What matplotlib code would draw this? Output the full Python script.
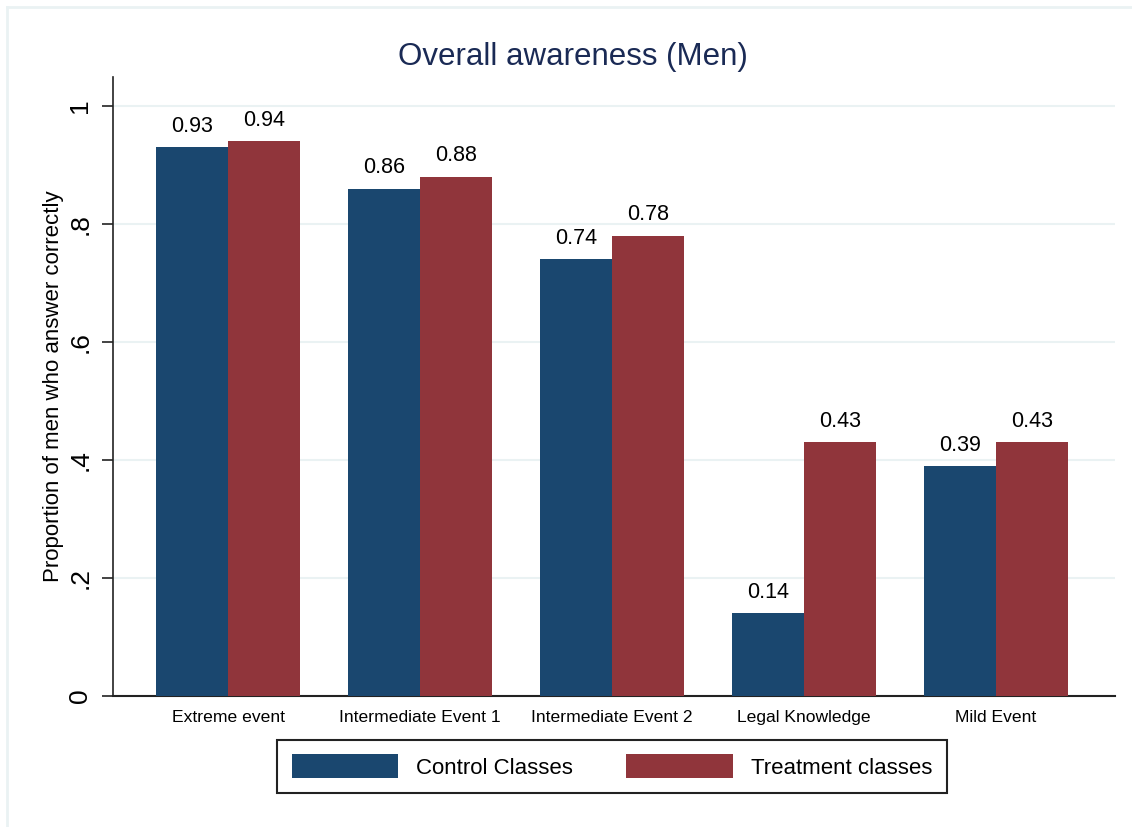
import matplotlib
matplotlib.use("Agg")
import matplotlib.pyplot as plt
import numpy as np
from matplotlib.lines import Line2D

plt.rcParams['font.family'] = ['Liberation Sans', 'DejaVu Sans']

categories = ["Extreme event", "Intermediate Event 1", "Intermediate Event 2",
              "Legal Knowledge", "Mild Event"]
control = [0.93, 0.86, 0.74, 0.14, 0.39]
treatment = [0.94, 0.88, 0.78, 0.43, 0.43]
series_names = ["Control Classes", "Treatment classes"]
yticks = [0, 0.2, 0.4, 0.6, 0.8, 1.0]
ytick_labels = ["0", ".2", ".4", ".6", ".8", "1"]

navy = "#1a476f"
maroon = "#90353b"
grid_c = "#eaf2f3"

fig = plt.figure(figsize=(11.32, 8.27), dpi=100)
W, H = 1132, 827
ax = fig.add_axes([113 / W, (H - 696) / H, (1115 - 113) / W, (696 - 77) / H])

x = np.arange(len(categories))
bw = 0.375
b1 = ax.bar(x - bw / 2, control, bw, color=navy, label=series_names[0], zorder=3)
b2 = ax.bar(x + bw / 2, treatment, bw, color=maroon, label=series_names[1], zorder=3)

for bars, vals in ((b1, control), (b2, treatment)):
    for r, v in zip(bars, vals):
        ax.annotate(f"{v:.2f}", (r.get_x() + r.get_width() / 2, v),
                    xytext=(0, 11), textcoords="offset points",
                    ha="center", va="baseline", fontsize=15.5, color="black")

ax.set_xlim(-0.599, 4.62)
ax.set_ylim(0, 1.049)
ax.set_yticks(yticks)
ax.set_yticklabels(ytick_labels, rotation=90, va="center", fontsize=19)
ax.set_xticks(x)
ax.set_xticklabels(categories, fontsize=12.6)
ax.tick_params(axis="x", length=0, pad=10)
ax.tick_params(axis="y", length=8, width=1.2, pad=7, color="#222222")
ax.grid(axis="y", color=grid_c, linewidth=1.5, zorder=0)
ax.set_axisbelow(True)
for s in ("top", "right"):
    ax.spines[s].set_visible(False)
ax.spines["left"].set_linewidth(1.2)
ax.spines["bottom"].set_linewidth(1.5)
ax.spines["left"].set_color("#222222")
ax.spines["bottom"].set_color("#222222")

ax.set_ylabel("Proportion of men who answer correctly", fontsize=16)
ax.yaxis.set_label_coords(-(113 - 64) / (1115 - 113), 0.5)

fig.text(573 / W, (H - 57) / H, "Overall awareness (Men)", fontsize=22.5,
         color="#1a2a55", ha="center", va="center")

leg = fig.legend(handles=[b1, b2], labels=series_names, loc="center",
                 bbox_to_anchor=(612 / W, (H - 766.5) / H), ncol=2,
                 fontsize=16, handlelength=4.8, handleheight=1.3,
                 handletextpad=0.8, columnspacing=2.4, borderpad=0.65,
                 fancybox=False, framealpha=1, edgecolor="#222222")
leg.get_frame().set_linewidth(1.5)

# outer faint border (left and top)
fig.add_artist(Line2D([7 / W, 7 / W], [0, (H - 7) / H], transform=fig.transFigure,
                      color=grid_c, linewidth=2))
fig.add_artist(Line2D([7 / W, 1], [(H - 7) / H, (H - 7) / H], transform=fig.transFigure,
                      color=grid_c, linewidth=2))

fig.savefig("out.png", dpi=100)
